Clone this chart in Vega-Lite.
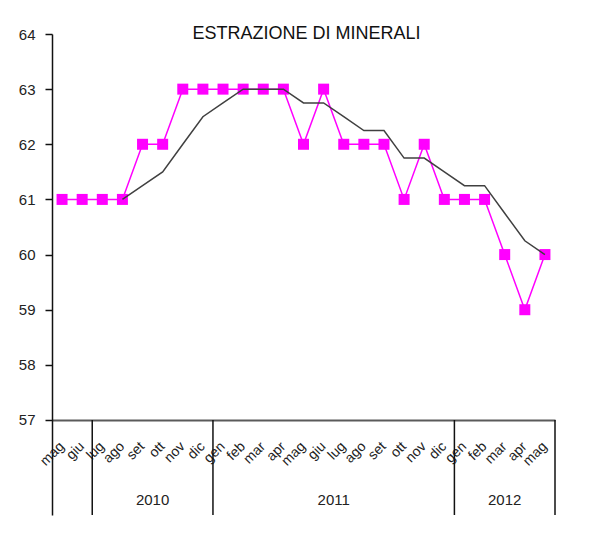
{
  "$schema": "https://vega.github.io/schema/vega-lite/v6.json",
  "autosize": "none",
  "width": 503,
  "height": 481,
  "padding": {"left": 52, "top": 34, "right": 46, "bottom": 38},
  "background": "white",
  "title": {"text": "ESTRAZIONE DI MINERALI", "anchor": "middle", "frame": "group", "offset": -30, "baseline": "alphabetic", "fontSize": 18, "fontWeight": "normal", "font": "Liberation Sans", "color": "#111111", "dx": 3},
  "config": {
    "view": {"stroke": null},
    "axisX": {"domainColor": "#5a5a5a", "domainWidth": 2, "ticks": false, "tickSize": 0, "labelAngle": -45, "labelAlign": "right", "labelBaseline": "middle", "labelPadding": 24, "labelFont": "Liberation Sans", "labelFontSize": 14, "labelColor": "#222222", "labelOverlap": false, "labelBound": false, "grid": false, "offset": -95},
    "axisY": {"domainColor": "#111111", "domainWidth": 1.5, "tickColor": "#111111", "tickWidth": 1.5, "tickSize": 7, "labelPadding": 10, "labelFont": "Liberation Sans", "labelFontSize": 15, "labelColor": "#222222", "grid": false}
  },
  "datasets": {
    "serie": [
      {"t": "mag 2010", "v": 61, "ma": null},
      {"t": "giu 2010", "v": 61, "ma": null},
      {"t": "lug 2010", "v": 61, "ma": null},
      {"t": "ago 2010", "v": 61, "ma": 61},
      {"t": "set 2010", "v": 62, "ma": 61.25},
      {"t": "ott 2010", "v": 62, "ma": 61.5},
      {"t": "nov 2010", "v": 63, "ma": 62},
      {"t": "dic 2010", "v": 63, "ma": 62.5},
      {"t": "gen 2011", "v": 63, "ma": 62.75},
      {"t": "feb 2011", "v": 63, "ma": 63},
      {"t": "mar 2011", "v": 63, "ma": 63},
      {"t": "apr 2011", "v": 63, "ma": 63},
      {"t": "mag 2011", "v": 62, "ma": 62.75},
      {"t": "giu 2011", "v": 63, "ma": 62.75},
      {"t": "lug 2011", "v": 62, "ma": 62.5},
      {"t": "ago 2011", "v": 62, "ma": 62.25},
      {"t": "set 2011", "v": 62, "ma": 62.25},
      {"t": "ott 2011", "v": 61, "ma": 61.75},
      {"t": "nov 2011", "v": 62, "ma": 61.75},
      {"t": "dic 2011", "v": 61, "ma": 61.5},
      {"t": "gen 2012", "v": 61, "ma": 61.25},
      {"t": "feb 2012", "v": 61, "ma": 61.25},
      {"t": "mar 2012", "v": 60, "ma": 60.75},
      {"t": "apr 2012", "v": 59, "ma": 60.25},
      {"t": "mag 2012", "v": 60, "ma": 60}
    ],
    "inizi": [{"t": "lug 2010"}, {"t": "gen 2011"}, {"t": "gen 2012"}],
    "fine": [{"t": "mag 2012"}],
    "anni": [{"t": "ott 2010", "anno": "2010"}, {"t": "lug 2011", "anno": "2011"}],
    "anni2": [{"t": "mar 2012", "anno": "2012"}]
  },
  "layer": [
    {
      "data": {"name": "serie"},
      "mark": {"type": "line", "color": "#FF00FF", "strokeWidth": 1.5, "point": {"shape": "square", "size": 121, "filled": true, "color": "#FF00FF", "opacity": 1}},
      "encoding": {
        "x": {"field": "t", "type": "ordinal", "bandPosition": 0.5, "title": null,
              "scale": {"domain": ["mag 2010","giu 2010","lug 2010","ago 2010","set 2010","ott 2010","nov 2010","dic 2010","gen 2011","feb 2011","mar 2011","apr 2011","mag 2011","giu 2011","lug 2011","ago 2011","set 2011","ott 2011","nov 2011","dic 2011","gen 2012","feb 2012","mar 2012","apr 2012","mag 2012"], "paddingInner": 0, "paddingOuter": 0},
              "axis": {"labelExpr": "split(datum.value, ' ')[0]"}},
        "y": {"field": "v", "type": "quantitative", "title": null,
              "scale": {"domain": [55.277, 64], "nice": false, "zero": false},
              "axis": {"values": [57, 58, 59, 60, 61, 62, 63, 64], "format": "d"}}
      }
    },
    {
      "data": {"name": "serie"},
      "transform": [{"filter": "datum.ma != null"}],
      "mark": {"type": "line", "color": "#404040", "strokeWidth": 1.5},
      "encoding": {
        "x": {"field": "t", "type": "ordinal", "bandPosition": 0.5, "title": null},
        "y": {"field": "ma", "type": "quantitative", "title": null}
      }
    },
    {
      "data": {"name": "inizi"},
      "mark": {"type": "rule", "color": "#111111", "strokeWidth": 1.5},
      "encoding": {
        "x": {"field": "t", "type": "ordinal", "bandPosition": 0, "title": null},
        "y": {"datum": 57, "type": "quantitative"},
        "y2": {"datum": 55.277}
      }
    },
    {
      "data": {"name": "fine"},
      "mark": {"type": "rule", "color": "#111111", "strokeWidth": 1.5},
      "encoding": {
        "x": {"field": "t", "type": "ordinal", "bandPosition": 1, "title": null},
        "y": {"datum": 57, "type": "quantitative"},
        "y2": {"datum": 55.277}
      }
    },
    {
      "data": {"name": "anni"},
      "mark": {"type": "text", "font": "Liberation Sans", "fontSize": 15, "color": "#222222", "baseline": "middle", "align": "center"},
      "encoding": {
        "x": {"field": "t", "type": "ordinal", "bandPosition": 0, "title": null},
        "y": {"datum": 55.549, "type": "quantitative"},
        "text": {"field": "anno"}
      }
    },
    {
      "data": {"name": "anni2"},
      "mark": {"type": "text", "font": "Liberation Sans", "fontSize": 15, "color": "#222222", "baseline": "middle", "align": "center"},
      "encoding": {
        "x": {"field": "t", "type": "ordinal", "bandPosition": 0.5, "title": null},
        "y": {"datum": 55.549, "type": "quantitative"},
        "text": {"field": "anno"}
      }
    }
  ]
}
